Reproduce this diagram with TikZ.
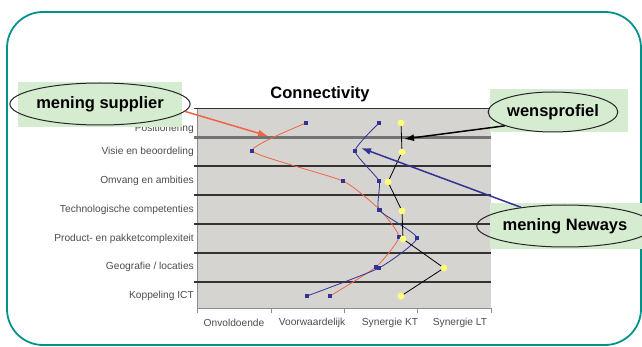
\documentclass[tikz,border=0pt]{standalone}
\usepackage{fontspec}
\setmainfont{Liberation Sans}
\usetikzlibrary{shapes.geometric,positioning,arrows.meta,plotmarks}

\definecolor{frameteal}{RGB}{0,147,138}
\definecolor{notegreen}{RGB}{214,236,208}
\definecolor{plotgray}{RGB}{214,212,208}
\definecolor{supred}{RGB}{240,100,70}
\definecolor{newblue}{RGB}{50,50,150}
\definecolor{wensyellow}{RGB}{255,255,120}

\tikzset{
  note/.style={ellipse,draw=black!85,line width=1pt,inner sep=0pt,
    font=\bfseries\fontsize{16.5}{18}\selectfont},
  catlabel/.style={anchor=east,inner sep=1pt,text=black!70,
    font=\fontsize{10.2}{12}\selectfont},
  axlabel/.style={inner sep=1pt,text=black!70,
    font=\fontsize{10.2}{12}\selectfont},
  gridline/.style={black!80,line width=1.6pt},
  series/.style={line width=0.8pt},
  pointer/.style={line width=1.5pt,-{Latex[length=10pt,width=7pt]}},
}

\begin{document}
\begin{tikzpicture}[x=1pt,y=-1pt]
  \useasboundingbox (0,0) rectangle (642,347);
  % frame
  \draw[frameteal,line width=1.8pt,rounded corners=36pt] (7,12) rectangle (641,345);

  % plot area
  \fill[plotgray] (197,108) rectangle (491,308);
  \draw[black!45,line width=0.6pt] (197,108) -- (197,308) -- (491,308);
  \foreach \x in {197,271,344,417,491}
    \draw[black!45,line width=0.6pt] (\x,308) -- (\x,313);
  \foreach \k in {0,2,3,4,5,6}
    \draw[gridline] (194,108.5+28.9*\k) -- (491,108.5+28.9*\k);
  \draw[black!55,line width=2.4pt] (194,137.4) -- (491,137.4);

  \node (title) at (320,94) {\bfseries\fontsize{16.5}{18}\selectfont Connectivity};

  % category labels
  \node[catlabel] (cat1) at (195,129) {Positionering};
  \foreach \lab [count=\i from 2] in {Visie en beoordeling,Omvang en ambities,
      Technologische competenties,Product- en pakketcomplexiteit,Geografie / locaties,Koppeling ICT}
    \node[catlabel] (cat\i) at (195,94.5+28.8*\i) {\lab};

  % axis labels
  \node[axlabel] (lev1) at (234,323) {Onvoldoende};
  \node[axlabel] (lev2) at (312,323) {Voorwaardelijk};
  \node[axlabel] (lev3) at (390,323) {Synergie KT};
  \node[axlabel] (lev4) at (460,323) {Synergie LT};

  % series
  \draw[series,supred] plot[smooth,tension=0.3,mark=square*,
      mark size=1.8pt,mark options={newblue}]
    coordinates {(306,123) (252,151) (343,181) (380,210) (399,237) (376,267) (330,296)};
  \draw[series,newblue] plot[smooth,tension=0.3,mark=square*,
      mark size=1.8pt,mark options={newblue}]
    coordinates {(379,123) (355,151) (379,181) (379,210) (417,238) (379,268) (307,296)};
  \draw[series,black] (401,123) -- (402,152) -- (388,182) -- (402,211)
    -- (403,239) -- (444,268) -- (401,296);
  \foreach \p in {(401,123),(402,152),(388,182),(402,211),(403,239),(444,268),(401,296)}
    \fill[wensyellow] \p circle (3.4pt);

  % notes
  \fill[notegreen] (18,82) rectangle (182,127);
  \node[note,minimum width=160pt,minimum height=42pt] (supplier) at (100,104) {mening supplier};
  \fill[notegreen] (490,89) rectangle (628,132);
  \node[note,minimum width=126pt,minimum height=40pt] (wens) at (553,112) {wensprofiel};
  \fill[notegreen] (490,203) rectangle (642,249);
  \node[note,minimum width=150pt,minimum height=42pt] (neways) at (565,226) {mening Neways};

  % pointers
  \coordinate (suptip) at (268,136);
  \coordinate (wenstip) at (404,139);
  \coordinate (newtip) at (361,148);
  \draw[pointer,supred] (supplier.-5) -- (suptip);
  \draw[pointer,black] (wens.196) -- (wenstip);
  \draw[pointer,newblue] (neways.157) -- (newtip);
\end{tikzpicture}
\end{document}
